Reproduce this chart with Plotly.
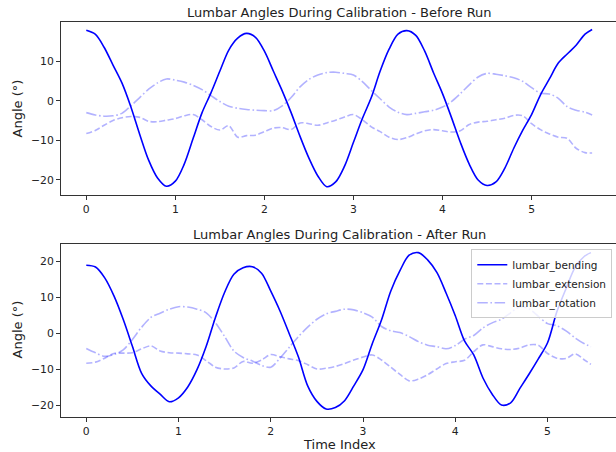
import plotly.graph_objects as go

# ---------------- data ----------------
x_before = [0.0, 0.1, 0.2, 0.3, 0.4, 0.5, 0.6, 0.7, 0.8, 0.9,
            1.0, 1.1, 1.2, 1.3, 1.4, 1.5, 1.6, 1.7, 1.8, 1.9,
            2.0, 2.1, 2.2, 2.3, 2.4, 2.5, 2.6, 2.7, 2.8, 2.9,
            3.0, 3.1, 3.2, 3.3, 3.4, 3.5, 3.6, 3.7, 3.8, 3.9,
            4.0, 4.1, 4.2, 4.3, 4.4, 4.5, 4.6, 4.7, 4.8, 4.9,
            5.0, 5.1, 5.2, 5.3, 5.4, 5.5, 5.6, 5.68]
bending_before = [17.8, 16.8, 13.5, 9.0, 4.5, -1.5, -8.5, -15.0, -19.5, -21.6,
                  -20.3, -16.0, -9.5, -3.0, 2.0, 7.5, 12.8, 15.8, 17.0, 16.0,
                  12.5, 7.5, 2.5, -3.0, -9.0, -14.5, -19.0, -21.7, -20.5, -16.5,
                  -10.5, -4.5, 0.8, 7.5, 13.0, 16.8, 17.7, 16.5, 12.5, 7.0,
                  1.8, -4.2, -10.5, -16.0, -20.0, -21.4, -20.5, -17.0, -12.0, -7.5,
                  -3.5, 1.5, 5.5, 9.5, 11.8, 14.0, 16.8, 18.0]
extension_before = [-8.3, -7.5, -6.2, -5.0, -4.3, -4.0, -4.2, -5.2, -5.3, -4.9,
                    -4.5, -3.8, -3.5, -4.8, -6.5, -7.4, -6.3, -9.2, -8.8, -8.7,
                    -7.8, -6.9, -6.8, -7.3, -5.6, -5.8, -6.2, -5.6, -4.9, -4.1,
                    -3.5, -4.8, -6.6, -7.8, -9.2, -9.8, -9.3, -8.4, -7.6, -7.3,
                    -7.6, -7.9, -7.6, -6.0, -5.4, -5.2, -4.8, -4.4, -3.7, -3.8,
                    -5.8, -7.3, -8.4, -9.2, -9.5, -12.0, -13.1, -13.2]
rotation_before = [-3.0, -3.6, -3.9, -3.8, -3.2, -1.3, 0.8, 2.9, 4.5, 5.5,
                   5.2, 4.7, 3.9, 2.8, 1.3, -0.2, -1.4, -1.9, -2.2, -2.4,
                   -2.5, -2.5, -1.3, 0.8, 3.5, 5.4, 6.5, 7.1, 7.2, 6.9,
                   6.5, 4.8, 2.6, 0.5, -1.6, -2.9, -3.5, -3.2, -2.8, -2.4,
                   -1.6, -0.2, 1.8, 4.0, 6.0, 6.9, 6.7, 6.3, 5.8, 4.9,
                   3.3, 1.9, 1.7, 0.6, -1.5, -2.4, -2.9, -3.6]

x_after = [0.0, 0.1, 0.2, 0.3, 0.4, 0.5, 0.6, 0.7, 0.8, 0.9,
           1.0, 1.1, 1.2, 1.3, 1.4, 1.5, 1.6, 1.7, 1.8, 1.9,
           2.0, 2.1, 2.2, 2.3, 2.4, 2.5, 2.6, 2.7, 2.8, 2.9,
           3.0, 3.1, 3.2, 3.3, 3.4, 3.5, 3.6, 3.7, 3.8, 3.9,
           4.0, 4.1, 4.2, 4.3, 4.4, 4.5, 4.6, 4.7, 4.8, 4.9,
           5.0, 5.1, 5.2, 5.3, 5.4, 5.47]
bending_after = [19.0, 18.5, 15.5, 10.5, 4.0, -3.5, -11.0, -14.5, -16.8, -18.9,
                 -17.8, -14.8, -10.0, -3.5, 4.5, 11.5, 16.5, 18.3, 18.6, 16.8,
                 11.8, 6.3, 0.0, -6.5, -14.5, -18.8, -20.9, -20.5, -18.6, -14.5,
                 -10.0, -2.8, 3.8, 11.8, 17.5, 21.8, 22.5, 20.5, 17.0, 11.3,
                 5.0, -2.0, -5.9, -12.3, -16.8, -19.8, -19.2, -15.2, -11.2, -7.0,
                 -2.5, 6.0, 12.5, 18.5, 21.5, 22.5]
extension_after = [-8.2, -7.9, -6.8, -5.5, -5.4, -5.3, -4.2, -3.4, -4.8, -5.3,
                   -5.4, -5.6, -5.9, -7.5, -9.3, -9.8, -9.5, -7.7, -8.2, -7.3,
                   -5.8, -6.4, -7.0, -7.5, -8.6, -9.8, -9.6, -9.1, -8.3, -7.3,
                   -6.5, -5.9, -7.3, -9.3, -11.3, -13.1, -12.6, -11.4, -9.8, -8.3,
                   -7.8, -7.4, -5.0, -3.1, -3.6, -4.2, -4.4, -4.0, -3.1, -3.2,
                   -5.5, -6.8, -6.9, -5.6, -7.3, -8.5]
rotation_after = [-4.1, -5.3, -6.3, -5.8, -4.5, -1.6, 1.8, 4.5, 5.7, 6.8,
                  7.5, 7.4, 6.8, 5.8, 3.0, -0.8, -4.8, -6.6, -7.6, -8.8,
                  -9.3, -6.8, -3.8, -0.8, 1.8, 4.0, 5.5, 6.2, 6.8, 6.6,
                  5.8, 4.6, 2.0, 0.8, 0.3, -0.8, -2.2, -3.2, -3.6, -4.2,
                  -3.3, -1.5, -0.5, 1.6, 3.0, 4.0, 5.8, 7.5, 6.9, 4.8,
                  2.8, 2.2, 0.8, -1.2, -2.8, -3.6]

series_names = ["lumbar_bending", "lumbar_extension", "lumbar_rotation"]
titles = ["Lumbar Angles During Calibration - Before Run",
          "Lumbar Angles During Calibration - After Run"]
x_label = "Time Index"
y_label = "Angle (°)"
x_ticks = [0, 1, 2, 3, 4, 5]
x_ticktext = ["0", "1", "2", "3", "4", "5"]
y_ticks_before = [-20, -10, 0, 10]
y_ticktext_before = ["\u221220", "\u221210", "0", "10"]
y_ticks_after = [-20, -10, 0, 10, 20]
y_ticktext_after = ["\u221220", "\u221210", "0", "10", "20"]

# ---------------- layout helpers ----------------
W, H = 616, 452
ML = 61
def px_x(p):
    return (p - ML) / (W - ML)
def px_y(p):
    return 1 - p / H

FONT = "DejaVu Sans"
solid = dict(color="rgb(0,0,255)", width=1.6)
faint = "rgba(0,0,255,0.3)"
dash_style = "6px,2.6px"
dashdot_style = "10.5px,2.6px,1.6px,2.6px"

fig = go.Figure()

def add_set(xv, b, e, r, xa, ya, legend):
    fig.add_trace(go.Scatter(x=xv, y=b, mode="lines", name=series_names[0],
                             line=dict(shape="spline", smoothing=0.9, **solid),
                             xaxis=xa, yaxis=ya, showlegend=legend))
    fig.add_trace(go.Scatter(x=xv, y=e, mode="lines", name=series_names[1],
                             line=dict(shape="spline", smoothing=0.9, color=faint,
                                       width=1.6, dash=dash_style),
                             xaxis=xa, yaxis=ya, showlegend=legend))
    fig.add_trace(go.Scatter(x=xv, y=r, mode="lines", name=series_names[2],
                             line=dict(shape="spline", smoothing=0.9, color=faint,
                                       width=1.6, dash=dashdot_style),
                             xaxis=xa, yaxis=ya, showlegend=legend))

add_set(x_before, bending_before, extension_before, rotation_before, "x", "y", False)
add_set(x_after, bending_after, extension_after, rotation_after, "x2", "y2", True)

axis_common = dict(showgrid=False, zeroline=False, showline=True, linecolor="#333333",
                   linewidth=1, ticks="outside", ticklen=4, tickwidth=1,
                   tickcolor="#333333", automargin=False,
                   tickfont=dict(family=FONT, size=10.8, color="#222222"))

fig.update_layout(
    width=W, height=H,
    margin=dict(l=ML, r=0, t=0, b=0, autoexpand=False),
    paper_bgcolor="white", plot_bgcolor="white",
    font=dict(family=FONT, color="#222222"),
    xaxis=dict(domain=[0, 1], range=[-0.284, 5.948], anchor="y", mirror=True,
               tickvals=x_ticks, ticktext=x_ticktext, **axis_common),
    yaxis=dict(domain=[px_y(195), px_y(22.3)], range=[-23.8, 19.8], anchor="x",
               tickvals=y_ticks_before, ticktext=y_ticktext_before, **axis_common),
    xaxis2=dict(domain=[0, 1], range=[-0.274, 5.742], anchor="y2", mirror=True,
                tickvals=x_ticks, ticktext=x_ticktext, **axis_common),
    yaxis2=dict(domain=[px_y(416.7), px_y(244)], range=[-23.05, 24.9], anchor="x2",
                tickvals=y_ticks_after, ticktext=y_ticktext_after, **axis_common),
    legend=dict(x=px_x(612.3), y=px_y(249.3), xanchor="right", yanchor="top",
                bgcolor="rgba(255,255,255,0.8)", bordercolor="#cccccc", borderwidth=1,
                font=dict(family=FONT, size=10.5, color="#222222"), itemwidth=30),
    showlegend=True,
)

annots = [
    dict(text=titles[0], x=px_x(339), y=px_y(12.5), font=dict(size=13)),
    dict(text=titles[1], x=px_x(339), y=px_y(234), font=dict(size=13)),
    dict(text=x_label, x=px_x(339), y=px_y(444.5), font=dict(size=13)),
    dict(text=y_label, x=px_x(16.5), y=px_y(109), font=dict(size=13), textangle=-90),
    dict(text=y_label, x=px_x(16.5), y=px_y(330), font=dict(size=13), textangle=-90),
]
for a in annots:
    a.update(xref="paper", yref="paper", showarrow=False, xanchor="center", yanchor="middle")
    a["font"].update(family=FONT, color="#222222")
    fig.add_annotation(**a)

fig.write_html("out.html",
               config={"displayModeBar": False},
               post_script="document.body.style.margin='0';document.body.style.overflow='hidden';")
